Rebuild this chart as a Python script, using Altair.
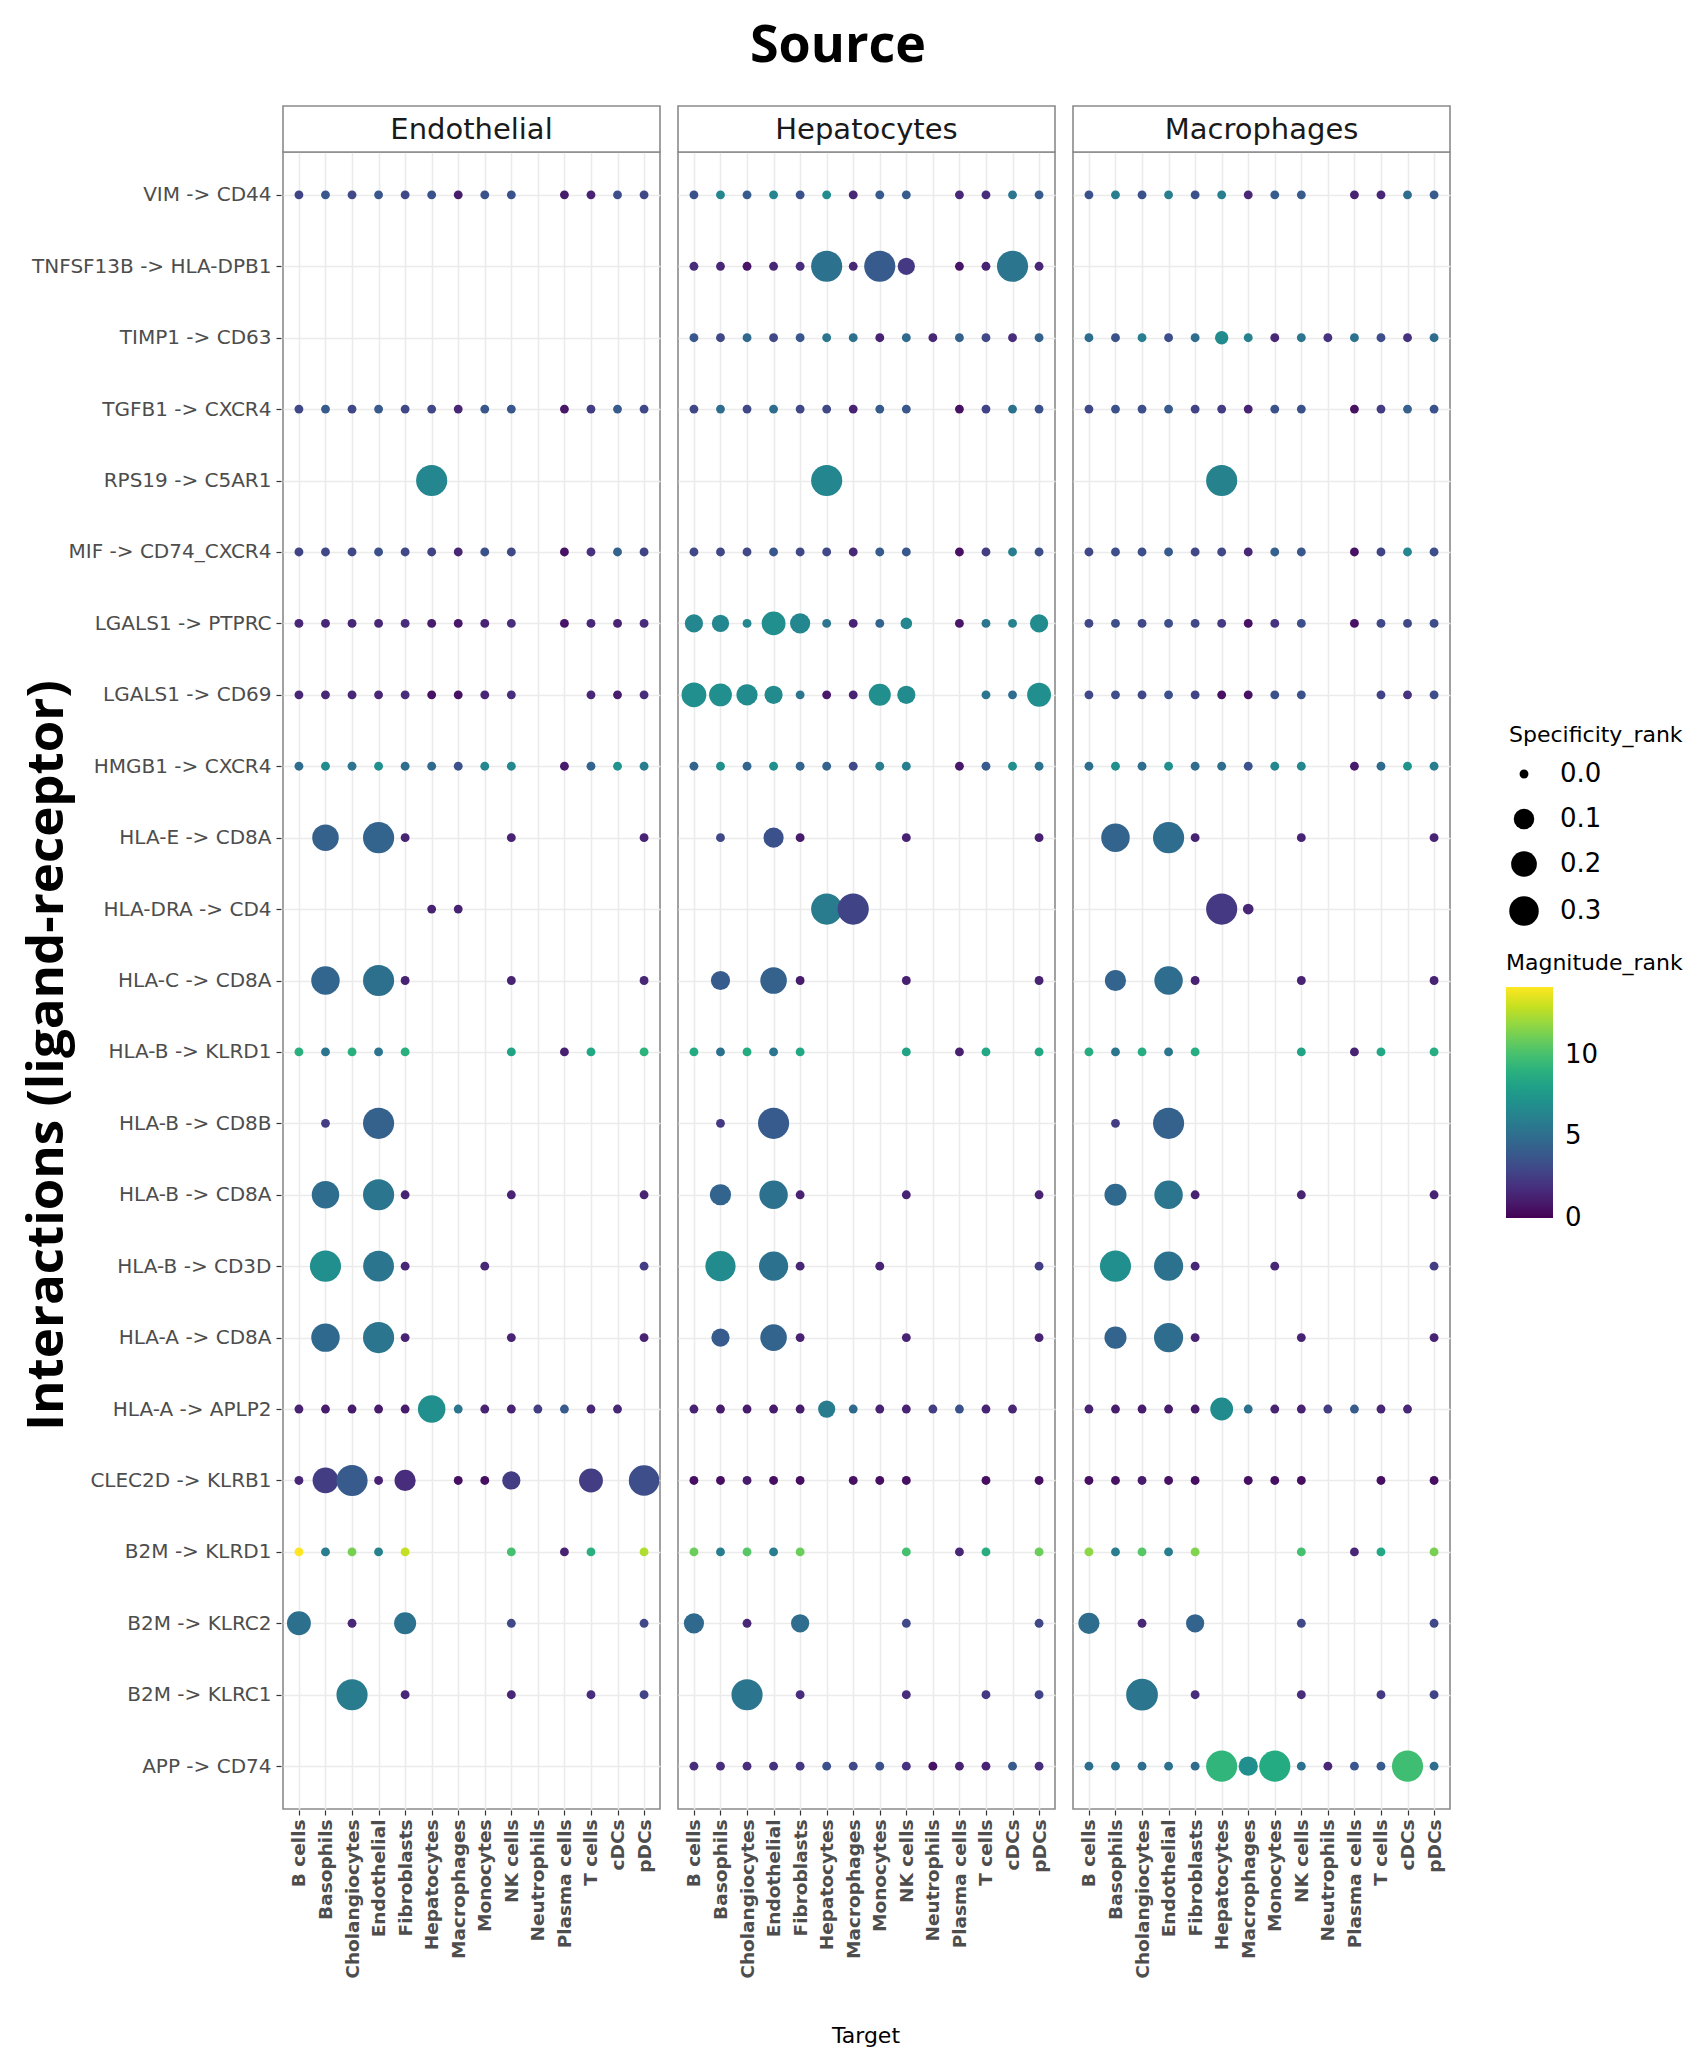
import altair as alt
import pandas as pd

N = None

SOURCES = ["Endothelial", "Hepatocytes", "Macrophages"]

TARGETS = ["B cells", "Basophils", "Cholangiocytes", "Endothelial", "Fibroblasts",
           "Hepatocytes", "Macrophages", "Monocytes", "NK cells", "Neutrophils",
           "Plasma cells", "T cells", "cDCs", "pDCs"]

INTERACTIONS = ["VIM -> CD44", "TNFSF13B -> HLA-DPB1", "TIMP1 -> CD63", "TGFB1 -> CXCR4",
                "RPS19 -> C5AR1", "MIF -> CD74_CXCR4", "LGALS1 -> PTPRC", "LGALS1 -> CD69",
                "HMGB1 -> CXCR4", "HLA-E -> CD8A", "HLA-DRA -> CD4", "HLA-C -> CD8A",
                "HLA-B -> KLRD1", "HLA-B -> CD8B", "HLA-B -> CD8A", "HLA-B -> CD3D",
                "HLA-A -> CD8A", "HLA-A -> APLP2", "CLEC2D -> KLRB1", "B2M -> KLRD1",
                "B2M -> KLRC2", "B2M -> KLRC1", "APP -> CD74"]

# Magnitude_rank per interaction, one value per target (None = no dot)
MAG_ENDOTHELIAL = {
    "VIM -> CD44":          [2.8, 3.8, 3.0, 3.8, 3.0, 3.5, 1.0, 3.5, 3.5, N, 1.0, 1.3, 3.3, 3.0],
    "TGFB1 -> CXCR4":       [3.0, 4.0, 3.0, 4.0, 3.0, 3.0, 1.5, 3.8, 3.8, N, 0.8, 2.5, 4.0, 3.0],
    "RPS19 -> C5AR1":       [N, N, N, N, N, 6.5, N, N, N, N, N, N, N, N],
    "MIF -> CD74_CXCR4":    [2.8, 3.0, 3.0, 3.5, 3.0, 2.8, 1.5, 3.5, 3.0, N, 0.6, 2.0, 4.3, 2.8],
    "LGALS1 -> PTPRC":      [1.5, 1.5, 1.5, 1.5, 1.8, 1.0, 0.8, 1.3, 1.8, N, 0.7, 1.5, 1.3, 1.8],
    "LGALS1 -> CD69":       [1.5, 1.5, 1.5, 1.5, 1.8, 0.6, 0.6, 1.5, 1.8, N, N, 1.5, 1.0, 1.8],
    "HMGB1 -> CXCR4":       [5.0, 6.8, 5.5, 7.0, 5.0, 4.8, 3.5, 6.5, 6.5, N, 1.0, 4.5, 7.3, 6.0],
    "HLA-E -> CD8A":        [N, 4.3, N, 4.5, 1.3, N, N, N, 1.3, N, N, N, N, 1.3],
    "HLA-DRA -> CD4":       [N, N, N, N, N, 1.3, 1.3, N, N, N, N, N, N, N],
    "HLA-C -> CD8A":        [N, 4.6, N, 5.2, 1.3, N, N, N, 1.3, N, N, N, N, 1.5],
    "HLA-B -> KLRD1":       [9.0, 5.5, 9.0, 5.5, 9.0, N, N, N, 8.3, N, 1.2, 8.5, N, 9.2],
    "HLA-B -> CD8B":        [N, 2.5, N, 4.3, N, N, N, N, N, N, N, N, N, N],
    "HLA-B -> CD8A":        [N, 5.0, N, 5.5, 1.3, N, N, N, 1.3, N, N, N, N, 1.3],
    "HLA-B -> CD3D":        [N, 7.0, N, 5.5, 1.5, N, N, 1.5, N, N, N, N, N, 2.5],
    "HLA-A -> CD8A":        [N, 4.8, N, 5.5, 1.3, N, N, N, 1.3, N, N, N, N, 1.3],
    "HLA-A -> APLP2":       [1.3, 1.0, 1.0, 1.0, 1.0, 7.0, 5.5, 1.3, 1.3, 2.5, 4.0, 1.5, 1.5, N],
    "CLEC2D -> KLRB1":      [1.5, 2.5, 4.0, 1.3, 1.8, N, 0.5, 0.5, 2.5, N, N, 2.5, N, 3.3],
    "B2M -> KLRD1":         [14.2, 6.0, 11.3, 6.2, 13.0, N, N, N, 10.0, N, 1.3, 9.0, N, 12.5],
    "B2M -> KLRC2":         [5.2, N, 1.5, N, 5.3, N, N, N, 3.0, N, N, N, N, 3.0],
    "B2M -> KLRC1":         [N, N, 5.8, N, 1.5, N, N, N, 1.5, N, N, 1.8, N, 2.8],
}

MAG_HEPATOCYTES = {
    "VIM -> CD44":          [3.5, 6.5, 4.0, 6.5, 3.5, 6.8, 1.5, 4.0, 4.0, N, 1.5, 1.8, 5.5, 4.0],
    "TNFSF13B -> HLA-DPB1": [1.8, 1.5, 0.7, 1.5, 1.8, 5.3, 1.5, 4.0, 2.3, N, 0.7, 1.3, 5.5, 1.5],
    "TIMP1 -> CD63":        [3.8, 3.0, 4.8, 3.0, 3.8, 5.5, 5.3, 1.3, 4.8, 1.5, 4.3, 3.0, 1.8, 4.3],
    "TGFB1 -> CXCR4":       [3.0, 5.0, 3.0, 5.0, 3.0, 3.0, 1.3, 4.0, 3.8, N, 0.6, 2.8, 5.3, 3.5],
    "RPS19 -> C5AR1":       [N, N, N, N, N, 6.5, N, N, N, N, N, N, N, N],
    "MIF -> CD74_CXCR4":    [3.0, 3.0, 3.0, 3.8, 3.0, 3.0, 1.5, 4.0, 3.8, N, 0.6, 2.5, 6.0, 3.3],
    "LGALS1 -> PTPRC":      [6.5, 6.5, 6.5, 7.0, 6.5, 5.5, 1.3, 4.5, 6.5, N, 0.8, 5.5, 6.3, 6.8],
    "LGALS1 -> CD69":       [7.0, 7.0, 6.8, 6.8, 5.5, 0.8, 1.3, 7.0, 6.8, N, N, 5.5, 5.0, 7.0],
    "HMGB1 -> CXCR4":       [4.5, 7.0, 4.5, 7.0, 4.5, 4.3, 3.0, 6.0, 6.0, N, 0.8, 4.0, 7.0, 5.3],
    "HLA-E -> CD8A":        [N, 3.0, N, 3.5, 1.0, N, N, N, 1.2, N, N, N, N, 1.2],
    "HLA-DRA -> CD4":       [N, N, N, N, N, 5.8, 2.8, N, N, N, N, N, N, N],
    "HLA-C -> CD8A":        [N, 4.0, N, 4.3, 1.0, N, N, N, 1.2, N, N, N, N, 1.3],
    "HLA-B -> KLRD1":       [8.7, 5.3, 8.7, 5.5, 8.5, N, N, N, 8.3, N, 1.2, 8.5, N, 8.5],
    "HLA-B -> CD8B":        [N, 2.3, N, 4.0, N, N, N, N, N, N, N, N, N, N],
    "HLA-B -> CD8A":        [N, 4.5, N, 5.3, 1.3, N, N, N, 1.3, N, N, N, N, 1.3],
    "HLA-B -> CD3D":        [N, 6.8, N, 5.3, 1.5, N, N, 1.3, N, N, N, N, N, 2.5],
    "HLA-A -> CD8A":        [N, 4.0, N, 4.5, 1.3, N, N, N, 1.3, N, N, N, N, 1.3],
    "HLA-A -> APLP2":       [1.3, 1.0, 1.0, 1.0, 1.0, 5.8, 4.8, 1.3, 1.3, 2.5, 3.5, 1.3, 1.5, N],
    "CLEC2D -> KLRB1":      [0.5, 0.5, 1.0, 0.5, 0.5, N, 0.6, 0.5, 0.5, N, N, 0.5, N, 0.5],
    "B2M -> KLRD1":         [11.0, 6.0, 10.5, 6.0, 11.0, N, N, N, 10.0, N, 1.5, 8.8, N, 11.0],
    "B2M -> KLRC2":         [4.8, N, 1.5, N, 5.0, N, N, N, 3.0, N, N, N, N, 3.0],
    "B2M -> KLRC1":         [N, N, 5.5, N, 1.8, N, N, N, 1.8, N, N, 2.3, N, 2.8],
    "APP -> CD74":          [1.8, 1.8, 1.8, 2.0, 2.2, 3.5, 3.0, 3.5, 2.0, 0.6, 1.3, 1.3, 4.0, 1.8],
}

MAG_MACROPHAGES = {
    "VIM -> CD44":          [3.5, 6.0, 3.5, 6.0, 3.5, 6.0, 1.5, 4.0, 4.0, N, 1.3, 1.5, 5.0, 4.0],
    "TIMP1 -> CD63":        [5.0, 3.5, 6.0, 3.3, 5.0, 6.8, 6.3, 1.5, 5.5, 2.0, 5.3, 3.3, 2.0, 5.0],
    "TGFB1 -> CXCR4":       [3.0, 3.5, 3.3, 4.0, 2.8, 2.5, 1.3, 3.5, 3.5, N, 0.6, 2.5, 4.3, 3.5],
    "RPS19 -> C5AR1":       [N, N, N, N, N, 6.3, N, N, N, N, N, N, N, N],
    "MIF -> CD74_CXCR4":    [3.0, 3.3, 3.3, 4.0, 3.0, 3.0, 1.5, 4.3, 3.8, N, 0.6, 2.8, 6.5, 3.3],
    "LGALS1 -> PTPRC":      [3.0, 3.3, 3.0, 3.3, 3.0, 2.3, 0.6, 2.0, 3.3, N, 0.6, 3.0, 3.0, 3.3],
    "LGALS1 -> CD69":       [3.0, 3.3, 3.0, 3.5, 2.8, 0.6, 0.6, 3.5, 3.5, N, N, 2.8, 2.0, 3.3],
    "HMGB1 -> CXCR4":       [5.0, 7.0, 5.0, 7.0, 5.0, 5.0, 3.5, 6.5, 6.5, N, 1.0, 4.8, 7.2, 6.0],
    "HLA-E -> CD8A":        [N, 4.5, N, 5.0, 1.3, N, N, N, 1.3, N, N, N, N, 1.3],
    "HLA-DRA -> CD4":       [N, N, N, N, N, 2.3, 1.5, N, N, N, N, N, N, N],
    "HLA-C -> CD8A":        [N, 4.5, N, 5.0, 1.3, N, N, N, 1.3, N, N, N, N, 1.3],
    "HLA-B -> KLRD1":       [8.8, 5.5, 8.8, 5.5, 8.8, N, N, N, 8.3, N, 1.3, 8.5, N, 8.8],
    "HLA-B -> CD8B":        [N, 2.5, N, 4.3, N, N, N, N, N, N, N, N, N, N],
    "HLA-B -> CD8A":        [N, 4.8, N, 5.5, 1.3, N, N, N, 1.3, N, N, N, N, 1.3],
    "HLA-B -> CD3D":        [N, 7.0, N, 5.3, 1.5, N, N, 1.5, N, N, N, N, N, 2.5],
    "HLA-A -> CD8A":        [N, 4.5, N, 5.0, 1.3, N, N, N, 1.3, N, N, N, N, 1.3],
    "HLA-A -> APLP2":       [1.3, 1.0, 1.0, 1.0, 1.0, 6.8, 5.3, 1.3, 1.3, 2.5, 4.0, 1.5, 1.5, N],
    "CLEC2D -> KLRB1":      [0.5, 0.6, 1.0, 0.6, 0.5, N, 0.5, 0.5, 0.5, N, N, 0.5, N, 0.5],
    "B2M -> KLRD1":         [11.8, 6.0, 10.5, 6.0, 11.5, N, N, N, 10.0, N, 1.5, 8.5, N, 11.3],
    "B2M -> KLRC2":         [5.0, N, 1.5, N, 4.5, N, N, N, 3.0, N, N, N, N, 3.0],
    "B2M -> KLRC1":         [N, N, 5.5, N, 1.8, N, N, N, 1.8, N, N, 2.3, N, 2.8],
    "APP -> CD74":          [5.0, 5.3, 5.0, 5.3, 5.0, 9.3, 7.0, 8.7, 5.3, 1.5, 3.8, 4.0, 9.8, 5.0],
}

# Specificity_rank: dots not listed here are at ~0
SPEC_ENDOTHELIAL = {
    "RPS19 -> C5AR1": {"Hepatocytes": 0.35},
    "HLA-E -> CD8A": {"Basophils": 0.22, "Endothelial": 0.35},
    "HLA-C -> CD8A": {"Basophils": 0.27, "Endothelial": 0.35},
    "HLA-B -> CD8B": {"Endothelial": 0.35},
    "HLA-B -> CD8A": {"Basophils": 0.245, "Endothelial": 0.35},
    "HLA-B -> CD3D": {"Basophils": 0.35, "Endothelial": 0.34},
    "HLA-A -> CD8A": {"Basophils": 0.27, "Endothelial": 0.35},
    "HLA-A -> APLP2": {"Hepatocytes": 0.245},
    "CLEC2D -> KLRB1": {"Basophils": 0.2, "Cholangiocytes": 0.35, "Fibroblasts": 0.11,
                        "NK cells": 0.067, "T cells": 0.16, "pDCs": 0.33},
    "B2M -> KLRC2": {"B cells": 0.16, "Fibroblasts": 0.125},
    "B2M -> KLRC1": {"Cholangiocytes": 0.35},
}

SPEC_HEPATOCYTES = {
    "TNFSF13B -> HLA-DPB1": {"Hepatocytes": 0.35, "Monocytes": 0.35, "NK cells": 0.055, "cDCs": 0.35},
    "RPS19 -> C5AR1": {"Hepatocytes": 0.35},
    "LGALS1 -> PTPRC": {"B cells": 0.067, "Basophils": 0.055, "Endothelial": 0.16,
                        "Fibroblasts": 0.094, "NK cells": 0.009, "pDCs": 0.067},
    "LGALS1 -> CD69": {"B cells": 0.18, "Basophils": 0.14, "Cholangiocytes": 0.11,
                       "Endothelial": 0.067, "Monocytes": 0.125, "NK cells": 0.067, "pDCs": 0.16},
    "HLA-E -> CD8A": {"Endothelial": 0.094},
    "HLA-DRA -> CD4": {"Hepatocytes": 0.35, "Macrophages": 0.35},
    "HLA-C -> CD8A": {"Basophils": 0.08, "Endothelial": 0.22},
    "HLA-B -> CD8B": {"Endothelial": 0.35},
    "HLA-B -> CD8A": {"Basophils": 0.11, "Endothelial": 0.27},
    "HLA-B -> CD3D": {"Basophils": 0.32, "Endothelial": 0.29},
    "HLA-A -> CD8A": {"Basophils": 0.067, "Endothelial": 0.22},
    "HLA-A -> APLP2": {"Hepatocytes": 0.055},
    "B2M -> KLRC2": {"B cells": 0.094, "Fibroblasts": 0.067},
    "B2M -> KLRC1": {"Cholangiocytes": 0.35},
}

SPEC_MACROPHAGES = {
    "TIMP1 -> CD63": {"Hepatocytes": 0.02},
    "RPS19 -> C5AR1": {"Hepatocytes": 0.35},
    "HLA-E -> CD8A": {"Basophils": 0.27, "Endothelial": 0.35},
    "HLA-DRA -> CD4": {"Hepatocytes": 0.35, "Macrophages": 0.005},
    "HLA-C -> CD8A": {"Basophils": 0.11, "Endothelial": 0.27},
    "HLA-B -> CD8B": {"Endothelial": 0.35},
    "HLA-B -> CD8A": {"Basophils": 0.125, "Endothelial": 0.27},
    "HLA-B -> CD3D": {"Basophils": 0.35, "Endothelial": 0.29},
    "HLA-A -> CD8A": {"Basophils": 0.125, "Endothelial": 0.29},
    "HLA-A -> APLP2": {"Hepatocytes": 0.14},
    "B2M -> KLRC2": {"B cells": 0.11, "Fibroblasts": 0.067},
    "B2M -> KLRC1": {"Cholangiocytes": 0.37},
    "APP -> CD74": {"Hepatocytes": 0.35, "Macrophages": 0.08, "Monocytes": 0.35, "cDCs": 0.35},
}

PANELS = [("Endothelial", MAG_ENDOTHELIAL, SPEC_ENDOTHELIAL),
          ("Hepatocytes", MAG_HEPATOCYTES, SPEC_HEPATOCYTES),
          ("Macrophages", MAG_MACROPHAGES, SPEC_MACROPHAGES)]

rows = []
for src, mag, spec in PANELS:
    for inter in INTERACTIONS:
        vals = mag.get(inter)
        if vals is None:
            continue
        for tgt, v in zip(TARGETS, vals):
            if v is None:
                continue
            rows.append({"Source": src, "Interaction": inter, "Target": tgt,
                         "Magnitude_rank": v,
                         "Specificity_rank": spec.get(inter, {}).get(tgt, 0.0)})
df = pd.DataFrame(rows)
df["idx"] = range(len(df))

W = 377
H = 1657
STRIP = 46
TXT = "#4d4d4d"

points = alt.Chart().mark_circle(opacity=1, strokeWidth=0).encode(
    x=alt.X("Target:N", sort=TARGETS,
            scale=alt.Scale(type="point", padding=0.6),
            axis=alt.Axis(title=None, labelAngle=270, labelAlign="right", labelBaseline="middle",
                          labelFont="DejaVu Sans", labelFontWeight="bold", labelFontSize=18.5,
                          labelColor=TXT, labelPadding=4, tickSize=5, tickColor="#333333",
                          tickWidth=1.2, grid=True, gridColor="#ebebeb", gridWidth=1.6,
                          domain=False, labelLimit=400)),
    y=alt.Y("Interaction:N", sort=INTERACTIONS,
            scale=alt.Scale(type="point", padding=0.6),
            axis=alt.Axis(title="Interactions (ligand-receptor)", titleFont="Open Sans",
                          titleFontSize=51, titleFontWeight="bold", titleColor="black",
                          titleX=-208, titleY=903, titleAngle=270, titleAlign="center",
                          titleBaseline="bottom",
                          labelFont="DejaVu Sans", labelFontSize=20, labelColor=TXT,
                          labelPadding=5, tickSize=5, tickColor="#333333", tickWidth=1.2,
                          grid=True, gridColor="#ebebeb", gridWidth=1.6, domain=False,
                          labelLimit=600)),
    color=alt.Color("Magnitude_rank:Q",
                    scale=alt.Scale(scheme="viridis", domain=[-0.02, 14.2]),
                    legend=alt.Legend(title="Magnitude_rank", orient="none",
                                      legendX=1223, legendY=801,
                                      gradientLength=231, gradientThickness=47,
                                      values=[0, 5, 10], labelOffset=12,
                                      labelBaseline="middle",
                                      gradientStrokeWidth=0, titlePadding=12)),
    size=alt.Size("Specificity_rank:Q",
                  scale=alt.Scale(type="pow", exponent=0.76, domain=[0, 0.35],
                                  range=[78.5, 970]),
                  legend=alt.Legend(title="Specificity_rank", orient="none",
                                    legendX=1226, legendY=573,
                                    values=[0, 0.1, 0.2, 0.3], format=".1f",
                                    symbolFillColor="black", symbolStrokeColor="black",
                                    symbolStrokeWidth=0, symbolOpacity=1,
                                    rowPadding=19, labelOffset=21, titlePadding=14)),
    order=alt.Order("idx:Q"),
)

strip_rect = alt.Chart().transform_aggregate(
    n="count()", groupby=["Source"]
).mark_rect(fill="white", stroke="#8a8a8a", strokeWidth=1.6).encode(
    x=alt.value(0), x2=alt.value(W), y=alt.value(-STRIP), y2=alt.value(0)
)

strip_text = alt.Chart().transform_aggregate(
    n="count()", groupby=["Source"]
).mark_text(font="DejaVu Sans", fontSize=29, color="#1a1a1a",
            align="center", baseline="middle").encode(
    x=alt.value(W / 2), y=alt.value(-STRIP / 2 + 1), text="Source:N"
)

chart = alt.layer(strip_rect, strip_text, points, data=df).properties(
    width=W, height=H
).facet(
    column=alt.Column("Source:N", sort=SOURCES,
                      header=alt.Header(title="Target", titleOrient="bottom",
                                        titleFont="DejaVu Sans", titleFontSize=22,
                                        titleFontWeight="normal", titleColor="black",
                                        titlePadding=37, labels=False)),
    spacing=14,
).properties(
    title=alt.Title("Source", font="Open Sans", fontSize=52, fontWeight="bold",
                    color="black", anchor="middle", offset=31, dx=-14),
    padding={"left": 21, "top": 20, "right": 5, "bottom": 5},
).configure_view(
    stroke="#8a8a8a", strokeWidth=1.6
).configure_legend(
    titleFont="DejaVu Sans", titleFontSize=22, titleFontWeight="normal", titleColor="black",
    labelFont="DejaVu Sans", labelFontSize=26, labelColor="black"
)

chart.save("out.html", embed_options={"renderer": "svg", "actions": False})
